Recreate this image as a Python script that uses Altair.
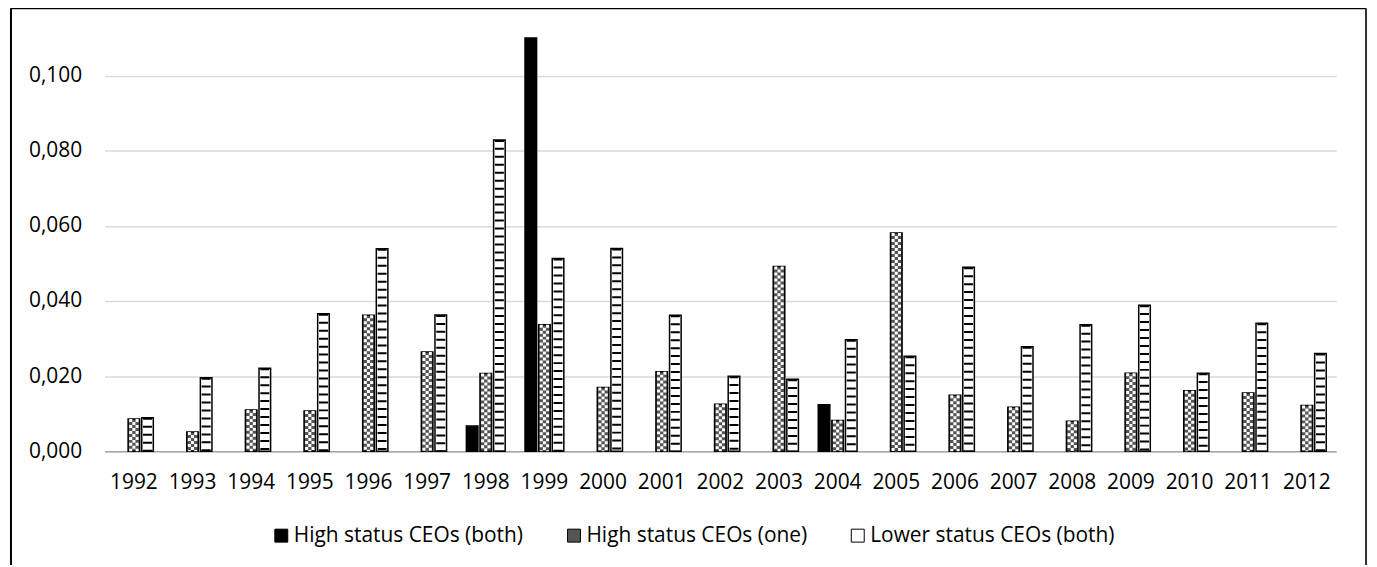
import altair as alt
import pandas as pd

years = ["1992", "1993", "1994", "1995", "1996", "1997", "1998", "1999", "2000", "2001", "2002",
         "2003", "2004", "2005", "2006", "2007", "2008", "2009", "2010", "2011", "2012"]
series = ["High status CEOs (both)", "High status CEOs (one)", "Lower status CEOs (both)"]

high_both = [None, None, None, None, None, None, 0.0067, 0.1100, None, None, None,
             None, 0.0124, None, None, None, None, None, None, None, None]
high_one = [0.0086, 0.0051, 0.0110, 0.0107, 0.0362, 0.0264, 0.0207, 0.0337, 0.0170, 0.0212, 0.0125,
            0.0492, 0.0082, 0.0581, 0.0149, 0.0117, 0.0080, 0.0208, 0.0161, 0.0155, 0.0122]
lower_both = [0.0089, 0.0196, 0.0221, 0.0366, 0.0539, 0.0363, 0.0829, 0.0513, 0.0540, 0.0362, 0.0200,
              0.0192, 0.0297, 0.0253, 0.0490, 0.0278, 0.0337, 0.0389, 0.0208, 0.0341, 0.0260]

y_ticks = [0.0, 0.02, 0.04, 0.06, 0.08, 0.10]

rows = []
for s, vals in zip(series, [high_both, high_one, lower_both]):
    for yr, v in zip(years, vals):
        if v is not None:
            rows.append({"year": yr, "series": s, "value": v})
df = pd.DataFrame(rows)
df_lower = df[df["series"] == series[2]]

# checker pattern columns for the "one" series (column index relative to bar centre)
chk_rows = []
for yr, v in zip(years, high_one):
    for col in (-1, 0, 1):
        chk_rows.append({"year": yr, "value": v, "col": col})
df_chk = pd.DataFrame(chk_rows)

FONT = "Open Sans"
FS = 21

x_enc = alt.X("year:N", sort=years,
              scale=alt.Scale(domain=years, paddingInner=0.338, paddingOuter=0.169),
              axis=alt.Axis(title=None, labelAngle=0, ticks=False, domainColor="#a6a6a6",
                            domainWidth=1.5, labelPadding=20, labelFontSize=FS, labelFont=FONT,
                            labelColor="#000000", grid=False))
xoff_enc = alt.XOffset("series:N", sort=series,
                       scale=alt.Scale(domain=series, paddingInner=0.15, paddingOuter=0))
y_enc = alt.Y("value:Q", scale=alt.Scale(domain=[0, 0.11], nice=False, zero=True),
              axis=alt.Axis(title=None, values=y_ticks, domain=False, ticks=False,
                            labelExpr="replace(format(datum.value, '.3f'), '.', ',')",
                            labelPadding=23, labelFontSize=FS, labelFont=FONT,
                            labelColor="#000000", gridColor="#d9d9d9", gridWidth=1.5))

bars = alt.Chart(df).mark_bar(stroke="black", strokeWidth=1.5).encode(
    x=x_enc,
    xOffset=xoff_enc,
    y=y_enc,
    color=alt.Color("series:N", sort=series,
                    scale=alt.Scale(domain=series, range=["#000000", "#555555", "#ffffff"]),
                    legend=alt.Legend(title=None, orient="none", legendX=167, legendY=489,
                                      direction="horizontal", symbolType="square",
                                      symbolSize=169, symbolStrokeColor="black",
                                      symbolStrokeWidth=1, symbolOpacity=1,
                                      labelFontSize=FS, labelFont=FONT, labelLimit=0,
                                      labelColor="#000000", columnPadding=40, labelOffset=2,
                                      padding=0)),
)

stripes = alt.Chart(df_lower).mark_rule(color="black", strokeWidth=9, strokeDash=[2, 6],
                                        strokeCap="butt").encode(
    x=alt.X("year:N", sort=years),
    xOffset=alt.XOffset("series:N", sort=series),
    y=alt.Y("value:Q"),
    y2=alt.datum(0),
)


def checker_layer(cols, phase):
    return alt.Chart(df_chk).transform_filter(
        alt.FieldOneOfPredicate(field="col", oneOf=cols)
    ).mark_rule(color="#ffffff", strokeWidth=3, strokeDash=[3, 3], strokeDashOffset=phase,
                strokeCap="butt").encode(
        x=alt.X("year:N", sort=years),
        xOffset=alt.XOffset("col:Q", scale=alt.Scale(domain=[-6.1, 6.1], nice=False, zero=False)),
        y=alt.Y("value:Q"),
        y2=alt.datum(0),
    )


checker = alt.layer(checker_layer([-1, 1], 0), checker_layer([0], 3))

main = alt.layer(bars, stripes).resolve_scale(xOffset="shared")

frame_df = pd.DataFrame({"k": [0]})
frame_top = alt.Chart(frame_df).mark_rule(color="black", strokeWidth=2).encode(
    x=alt.value(-94), x2=alt.value(1267), y=alt.value(-30))
frame_left = alt.Chart(frame_df).mark_rule(color="black", strokeWidth=2).encode(
    x=alt.value(-94), y=alt.value(-30), y2=alt.value(530))
frame_right = alt.Chart(frame_df).mark_rule(color="#333333", strokeWidth=2).encode(
    x=alt.value(1267), y=alt.value(-30), y2=alt.value(530))

chart = alt.layer(main, checker, frame_top, frame_left, frame_right).resolve_scale(
    xOffset="independent"
).properties(
    width=1237, height=415,
    autosize=alt.AutoSizeParams(type="none"),
    padding={"left": 97, "top": 29, "right": 33, "bottom": 113},
    background="white",
).configure_view(stroke=None)

chart.save("out.html", embed_options={"renderer": "svg", "actions": False})
